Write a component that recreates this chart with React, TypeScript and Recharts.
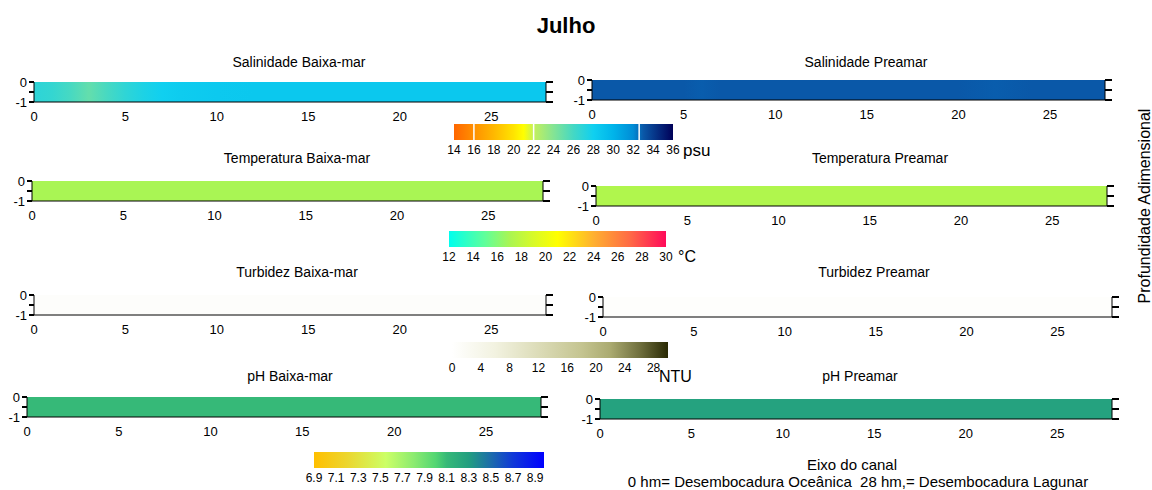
import React from "react";
import { ComposedChart, Area, XAxis, YAxis, ReferenceLine } from "recharts";

const FONTE = '"Liberation Sans", Arial, sans-serif';

// posições ao longo do eixo do canal (hm)
const canal = [0, 1, 2, 3, 4, 5, 6, 7, 8, 10, 12, 14, 16, 18, 20, 22, 24, 26, 28];
const canalTicks = [0, 5, 10, 15, 20, 25];
const profTicks = [-1, -0.5, 0];

// valores médios na coluna d'água em cada posição
const salBaixa = [26.9, 26.6, 25.9, 25.0, 25.9, 26.8, 27.5, 28.0, 28.3, 28.5, 28.6, 28.6, 28.6, 28.6, 28.6, 28.6, 28.6, 28.6, 28.6];
const salPreamar = [33.0, 33.0, 33.0, 33.0, 33.0, 33.0, 32.9, 33.0, 33.0, 33.0, 33.0, 33.0, 33.0, 33.0, 33.0, 32.9, 33.0, 33.0, 33.0];
const tempBaixa = [17.0, 17.0, 17.0, 17.0, 17.0, 17.0, 17.0, 17.0, 17.0, 17.0, 17.0, 17.0, 17.0, 17.0, 17.0, 17.0, 17.0, 17.0, 17.0];
const tempPreamar = [17.3, 17.3, 17.3, 17.3, 17.3, 17.3, 17.3, 17.3, 17.3, 17.3, 17.3, 17.3, 17.3, 17.3, 17.3, 17.3, 17.3, 17.3, 17.3];
const turbBaixa = [0.8, 0.8, 0.8, 0.8, 0.8, 0.8, 0.8, 0.8, 0.8, 0.8, 0.8, 0.8, 0.8, 0.8, 0.8, 0.8, 0.8, 0.8, 0.8];
const turbPreamar = [0.6, 0.6, 0.6, 0.6, 0.6, 0.6, 0.6, 0.6, 0.6, 0.6, 0.6, 0.6, 0.6, 0.6, 0.6, 0.6, 0.6, 0.6, 0.6];
const phBaixa = [8.1, 8.1, 8.1, 8.1, 8.1, 8.1, 8.1, 8.1, 8.1, 8.1, 8.1, 8.1, 8.1, 8.1, 8.1, 8.1, 8.1, 8.1, 8.1];
const phPreamar = [8.27, 8.27, 8.27, 8.27, 8.27, 8.27, 8.27, 8.27, 8.27, 8.27, 8.27, 8.27, 8.27, 8.27, 8.27, 8.27, 8.27, 8.27, 8.27];

// escalas de cores
const salEscala = [14, 16, 18, 20, 21, 22, 24, 26, 28, 30, 32, 33, 36];
const salCores = ["#ff6600", "#ff9000", "#ffb800", "#ffe400", "#ffff00", "#c4f05c", "#84e494", "#44d8c4", "#10d0f0", "#00b4ea", "#008cd6", "#0a58a8", "#000058"];
const salTicks = [14, 16, 18, 20, 22, 24, 26, 28, 30, 32, 34, 36];
const salQuebras = [16, 22, 32.6];

const tempEscala = [12, 15, 17, 19, 21, 24, 27, 30];
const tempCores = ["#00ffee", "#60ff9a", "#a9f554", "#d8fa28", "#ffff00", "#ffb030", "#ff6a45", "#ff0a5a"];
const tempTicks = [12, 14, 16, 18, 20, 22, 24, 26, 28, 30];

const turbEscala = [0, 6, 12, 18, 22, 26, 30];
const turbCores = ["#ffffff", "#f2f2e0", "#dcdcb8", "#c4c490", "#aaaa70", "#70703e", "#2a2a05"];
const turbTicks = [0, 4, 8, 12, 16, 20, 24, 28];

const phEscala = [6.9, 7.2, 7.55, 7.8, 8.0, 8.1, 8.3, 8.5, 8.7, 8.98];
const phCores = ["#ffbf00", "#ecd62e", "#ccff66", "#8ceb70", "#52d672", "#36b978", "#229e80", "#1c6cab", "#1038d8", "#0000ff"];
const phTicks = [6.9, 7.1, 7.3, 7.5, 7.7, 7.9, 8.1, 8.3, 8.5, 8.7, 8.9];

const hexRgb = (h: string) => [1, 3, 5].map((i) => parseInt(h.slice(i, i + 2), 16));

function cor(v: number, escala: number[], cores: string[]) {
  if (v <= escala[0]) return cores[0];
  for (let i = 1; i < escala.length; i++) {
    if (v <= escala[i]) {
      const t = (v - escala[i - 1]) / (escala[i] - escala[i - 1]);
      const a = hexRgb(cores[i - 1]);
      const b = hexRgb(cores[i]);
      const c = a.map((x, k) => Math.round(x + (b[k] - x) * t));
      return `rgb(${c[0]},${c[1]},${c[2]})`;
    }
  }
  return cores[cores.length - 1];
}

const TOPO = 8;
const ESQ = 40;
const traco = { stroke: "#000", strokeWidth: 1.2, shapeRendering: "crispEdges" as const };

function Painel({ id, valores, escala, cores, x0, x1, y0, y1 }: any) {
  const dados = canal.map((x, i) => ({ x, sup: 0, v: valores[i] }));
  const base = TOPO + (y1 - y0);
  // comprimento dos tracinhos, em unidades do eixo do canal
  const dx = 5.5 / ((x1 - x0) / 28);

  const tickX = (p: any) => (
    <text x={p.x} y={base + 10} dy="0.71em" textAnchor="middle" fontSize={13} fill="#000">{p.payload.value}</text>
  );
  const tickY = (p: any) =>
    p.payload.value === -0.5 ? <g /> : (
      <text x={p.x} y={p.y} dy="0.35em" textAnchor="end" fontSize={13} fill="#000">{p.payload.value}</text>
    );

  return (
    <>
      <div style={{ position: "absolute", left: x0 - ESQ, top: y0 - TOPO }}>
        <ComposedChart width={x1 - x0 + 60} height={y1 - y0 + 34} data={dados} margin={{ top: TOPO, right: 0, bottom: 0, left: 0 }}>
          <defs>
            <linearGradient id={id} x1="0" y1="0" x2="1" y2="0">
              {dados.map((d) => (
                <stop key={d.x} offset={d.x / 28} stopColor={cor(d.v, escala, cores)} />
              ))}
            </linearGradient>
          </defs>
          <Area yAxisId="l" dataKey="sup" baseValue={-1} type="linear" stroke="none" fill={`url(#${id})`} fillOpacity={1}
            dot={false} activeDot={false} isAnimationActive={false} />
          <XAxis dataKey="x" type="number" domain={[0, 28]} ticks={canalTicks} interval={0} height={26}
            stroke="#000" tickLine={false} tick={tickX} />
          <YAxis yAxisId="l" type="number" domain={[-1, 0]} ticks={profTicks} interval={0} width={ESQ}
            tickSize={5} tickMargin={2} stroke="#000" tickLine={false} tick={tickY} />
          <YAxis yAxisId="r" orientation="right" type="number" domain={[-1, 0]} ticks={profTicks} interval={0} width={20}
            stroke="#000" tick={false} tickLine={false} />
          {profTicks.map((t) => (
            <ReferenceLine key={"l" + t} yAxisId="l" segment={[{ x: 0, y: t }, { x: -dx, y: t }]} ifOverflow="visible" {...traco} />
          ))}
          {profTicks.map((t) => (
            <ReferenceLine key={"r" + t} yAxisId="l" segment={[{ x: 28, y: t }, { x: 28 + dx * 1.2, y: t }]} ifOverflow="visible" {...traco} />
          ))}
        </ComposedChart>
      </div>
      {/* faixa estreita logo abaixo do eixo, só para os tracinhos do eixo do canal */}
      <div style={{ position: "absolute", left: x0 - ESQ, top: y1 }}>
        <ComposedChart width={x1 - x0 + 60} height={6} data={dados} margin={{ top: 0, right: 20, bottom: 0, left: ESQ }}>
          <XAxis dataKey="x" type="number" domain={[0, 28]} hide />
          <YAxis type="number" domain={[0, 1]} hide />
          {canalTicks.map((t) => (
            <ReferenceLine key={"x" + t} x={t} {...traco} />
          ))}
        </ComposedChart>
      </div>
    </>
  );
}

function Barra({ id, escala, cores, ticks, x0, x1, y0, y1, quebras = [], fmt }: any) {
  const min = escala[0];
  const max = escala[escala.length - 1];
  const dados = escala.map((v: number) => ({ v, h: 1 }));
  return (
    <div style={{ position: "absolute", left: x0 - 20, top: y0 }}>
      <ComposedChart width={x1 - x0 + 40} height={y1 - y0 + 20} data={dados} margin={{ top: 0, right: 20, bottom: 0, left: 20 }}>
        <defs>
          <linearGradient id={id} x1="0" y1="0" x2="1" y2="0">
            {escala.map((v: number, i: number) => (
              <stop key={v} offset={(v - min) / (max - min)} stopColor={cores[i]} />
            ))}
          </linearGradient>
        </defs>
        <Area dataKey="h" baseValue={0} type="linear" stroke="none" fill={`url(#${id})`} fillOpacity={1}
          dot={false} activeDot={false} isAnimationActive={false} />
        <XAxis dataKey="v" type="number" domain={[min, max]} ticks={ticks} interval={0} height={20} tickSize={2} tickMargin={3}
          axisLine={false} tickLine={false} tick={{ fill: "#000", fontSize: 12 }} tickFormatter={fmt} />
        <YAxis type="number" domain={[0, 1]} hide />
        {quebras.map((q: number) => (
          <ReferenceLine key={q} x={q} stroke="#fff" strokeWidth={1.5} />
        ))}
      </ComposedChart>
    </div>
  );
}

const titulos = [
  { t: "Salinidade Baixa-mar", x: 299, y: 67 },
  { t: "Salinidade Preamar", x: 866, y: 67 },
  { t: "Temperatura Baixa-mar", x: 297, y: 163 },
  { t: "Temperatura Preamar", x: 880, y: 163 },
  { t: "Turbidez Baixa-mar", x: 297, y: 277 },
  { t: "Turbidez Preamar", x: 874, y: 277 },
  { t: "pH Baixa-mar", x: 290, y: 381 },
  { t: "pH Preamar", x: 860, y: 381 },
];

export default function App() {
  return (
    <div style={{ position: "absolute", left: 0, top: 0, width: 1152, height: 490, background: "#fff", fontFamily: FONTE }}>
      <Painel id="g1" valores={salBaixa} escala={salEscala} cores={salCores} x0={34} x1={546} y0={82} y1={102} />
      <Painel id="g2" valores={salPreamar} escala={salEscala} cores={salCores} x0={592} x1={1105} y0={80} y1={100} />
      <Painel id="g3" valores={tempBaixa} escala={tempEscala} cores={tempCores} x0={32} x1={543} y0={181} y1={201} />
      <Painel id="g4" valores={tempPreamar} escala={tempEscala} cores={tempCores} x0={596} x1={1107} y0={186} y1={206} />
      <Painel id="g5" valores={turbBaixa} escala={turbEscala} cores={turbCores} x0={34} x1={546} y0={295} y1={315} />
      <Painel id="g6" valores={turbPreamar} escala={turbEscala} cores={turbCores} x0={603} x1={1112} y0={297} y1={317} />
      <Painel id="g7" valores={phBaixa} escala={phEscala} cores={phCores} x0={27} x1={541} y0={397} y1={417} />
      <Painel id="g8" valores={phPreamar} escala={phEscala} cores={phCores} x0={600} x1={1112} y0={399} y1={419} />

      <Barra id="b1" escala={salEscala} cores={salCores} ticks={salTicks} quebras={salQuebras} x0={454} x1={673} y0={124} y1={140} />
      <Barra id="b2" escala={tempEscala} cores={tempCores} ticks={tempTicks} x0={449} x1={666} y0={231} y1={247} />
      <Barra id="b3" escala={turbEscala} cores={turbCores} ticks={turbTicks} x0={452} x1={668} y0={342} y1={358} />
      <Barra id="b4" escala={phEscala} cores={phCores} ticks={phTicks} x0={314} x1={544} y0={452} y1={468}
        fmt={(v: number) => v.toFixed(1)} />

      <svg width={1152} height={490} style={{ position: "absolute", left: 0, top: 0, pointerEvents: "none" }}>
        <text x={566} y={33} textAnchor="middle" fontSize={22} fontWeight="bold">Julho</text>
        {titulos.map((d) => (
          <text key={d.t} x={d.x} y={d.y} textAnchor="middle" fontSize={14}>{d.t}</text>
        ))}
        <text x={683} y={156} fontSize={17}>psu</text>
        <text x={678} y={262} fontSize={16}>°C</text>
        <text x={659} y={382} fontSize={16}>NTU</text>
        <text x={1150} y={206} textAnchor="middle" fontSize={16} transform="rotate(-90 1150 206)">Profundidade Adimensional</text>
        <text x={852} y={470} textAnchor="middle" fontSize={15}>Eixo do canal</text>
        <text x={858} y={487} textAnchor="middle" fontSize={15} style={{ whiteSpace: "pre" }}>
          0 hm= Desembocadura Oceânica  28 hm,= Desembocadura Lagunar
        </text>
      </svg>
    </div>
  );
}
